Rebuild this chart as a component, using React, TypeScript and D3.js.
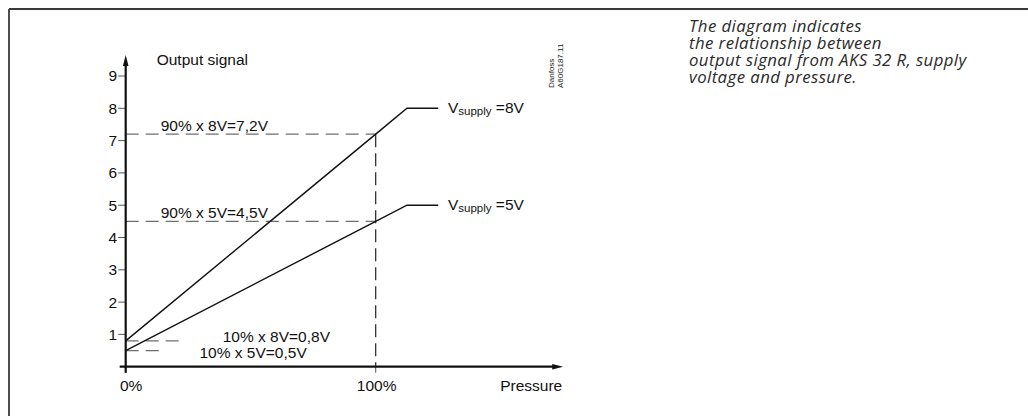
import React from 'react';
import * as d3 from 'd3';

// Values
const yTickValues = [1, 2, 3, 4, 5, 6, 7, 8, 9];
const xTickValues = [0, 100];
const xTickLabels = ['0%', '100%'];

const supplyVoltages = [8, 5];
const pressurePct = [0, 100, 112.5, 125];
const signal8V = [0.8, 7.2, 8, 8];
const signal5V = [0.5, 4.5, 5, 5];

// dashed guides: level, length in % of pressure
const guideLevels = [7.2, 4.5, 0.8, 0.5];
const guideEnds = [100, 100, 24, 15];
const guideLabels = ['90% x 8V=7,2V', '90% x 5V=4,5V', '10% x 8V=0,8V', '10% x 5V=0,5V'];
const guideLabelX = [14, 14, 38.8, 29.5];

const noteLines = [
  'The diagram indicates',
  'the relationship between',
  'output signal from AKS 32 R, supply',
  'voltage and pressure.',
];

const W = 1028;
const H = 416;
const FONT = '"Liberation Sans", Arial, sans-serif';

const App: React.FC = () => {
  const x = d3.scaleLinear().domain([0, 100]).range([125.7, 375.7]);
  const y = d3.scaleLinear().domain([0, 9]).range([366.7, 76]);

  const line = d3
    .line<[number, number]>()
    .x(d => x(d[0]))
    .y(d => y(d[1]));

  const series = [signal8V, signal5V].map(vals =>
    pressurePct.map((p, i) => [p, vals[i]] as [number, number])
  );

  const x0 = x(0);
  const y0 = y(0);
  const xEnd = x(175);
  const yTop = y(9.65);

  return (
    <svg
      width={W}
      height={H}
      style={{ position: 'absolute', left: 0, top: 0, background: '#fff' }}
      fontFamily={FONT}
    >
      {/* frame */}
      <line x1={9} y1={9} x2={W} y2={9} stroke="#3a3a3a" strokeWidth={1.8} />
      <line x1={9} y1={9} x2={9} y2={H} stroke="#3a3a3a" strokeWidth={1.8} />

      {/* dashed guides */}
      {guideLevels.map((lv, i) => (
        <line
          key={'g' + i}
          x1={x0}
          x2={x(guideEnds[i])}
          y1={y(lv)}
          y2={y(lv)}
          stroke="#6e6e6e"
          strokeWidth={1.3}
          strokeDasharray="13,7"
        />
      ))}
      <line
        x1={x(100)}
        x2={x(100)}
        y1={y(7.2)}
        y2={y0}
        stroke="#222"
        strokeWidth={1.2}
        strokeDasharray="13,6"
      />

      {/* signal lines */}
      {series.map((s, i) => (
        <path key={'s' + i} d={line(s) || ''} fill="none" stroke="#111" strokeWidth={1.4} />
      ))}

      {/* supply labels */}
      {supplyVoltages.map((v, i) => (
        <text key={'v' + i} x={x(128.9)} y={y(v) + 5} fontSize={15.5} fill="#111">
          V
          <tspan fontSize={11.5} dy={2}>supply</tspan>
          <tspan fontSize={15.5} dy={-2}>{' =' + v + 'V'}</tspan>
        </text>
      ))}

      {/* guide labels */}
      {guideLabels.map((t, i) => (
        <text
          key={'l' + i}
          x={x(guideLabelX[i])}
          y={i < 2 ? y(guideLevels[i]) - 3.5 : i === 2 ? 341.7 : 358}
          fontSize={15.5}
          fill="#111"
        >
          {t}
        </text>
      ))}

      {/* y ticks */}
      {yTickValues.map(v => (
        <g key={'yt' + v} transform={`translate(0,${y(v)})`}>
          <line x1={x0 - 7.5} x2={x0} stroke="#555" strokeWidth={1} />
          <text x={x0 - 8.5} dy="0.35em" textAnchor="end" fontSize={15.5} fill="#111">
            {v}
          </text>
        </g>
      ))}

      {/* x ticks */}
      {xTickValues.map((v, i) => (
        <g key={'xt' + v} transform={`translate(${x(v)},0)`}>
          <line y1={y0} y2={y0 + 6} stroke="#555" strokeWidth={1} />
          <text x={i === 0 ? 5.5 : 1} y={390.5} textAnchor="middle" fontSize={15.5} fill="#111">
            {xTickLabels[i]}
          </text>
        </g>
      ))}

      {/* axes with arrows */}
      <line x1={x0 - 6} x2={xEnd - 8} y1={y0} y2={y0} stroke="#111" strokeWidth={2.2} />
      <path d={`M${xEnd},${y0} L${xEnd - 11},${y0 - 2.8} L${xEnd - 11},${y0 + 2.8} Z`} fill="#111" />
      <line x1={x0} x2={x0} y1={y0 + 6} y2={yTop + 8} stroke="#111" strokeWidth={2.2} />
      <path d={`M${x0},${yTop} L${x0 - 2.8},${yTop + 11} L${x0 + 2.8},${yTop + 11} Z`} fill="#111" />

      {/* axis titles */}
      <text x={156.7} y={65} fontSize={15.5} fill="#111">
        Output signal
      </text>
      <text x={xEnd - 1} y={390.5} textAnchor="end" fontSize={15.5} fill="#111">
        Pressure
      </text>

      {/* drawing reference */}
      <g transform="translate(553.5,88) rotate(-90)" fontSize={8} fill="#222"
        fontFamily='"Liberation Sans Narrow", "Arial Narrow", sans-serif'>
        <text x={0} y={0}>Danfoss</text>
        <text x={0} y={9}>A60G187.11</text>
      </g>

      {/* note */}
      {noteLines.map((t, i) => (
        <text
          key={'n' + i}
          x={689}
          y={31.5 + i * 17}
          fontSize={16.8}
          fontStyle="italic"
          letterSpacing={0.42}
          fill="#2a2a2a"
          fontFamily='"Open Sans", Lato, sans-serif'
        >
          {t}
        </text>
      ))}
    </svg>
  );
};

export default App;
